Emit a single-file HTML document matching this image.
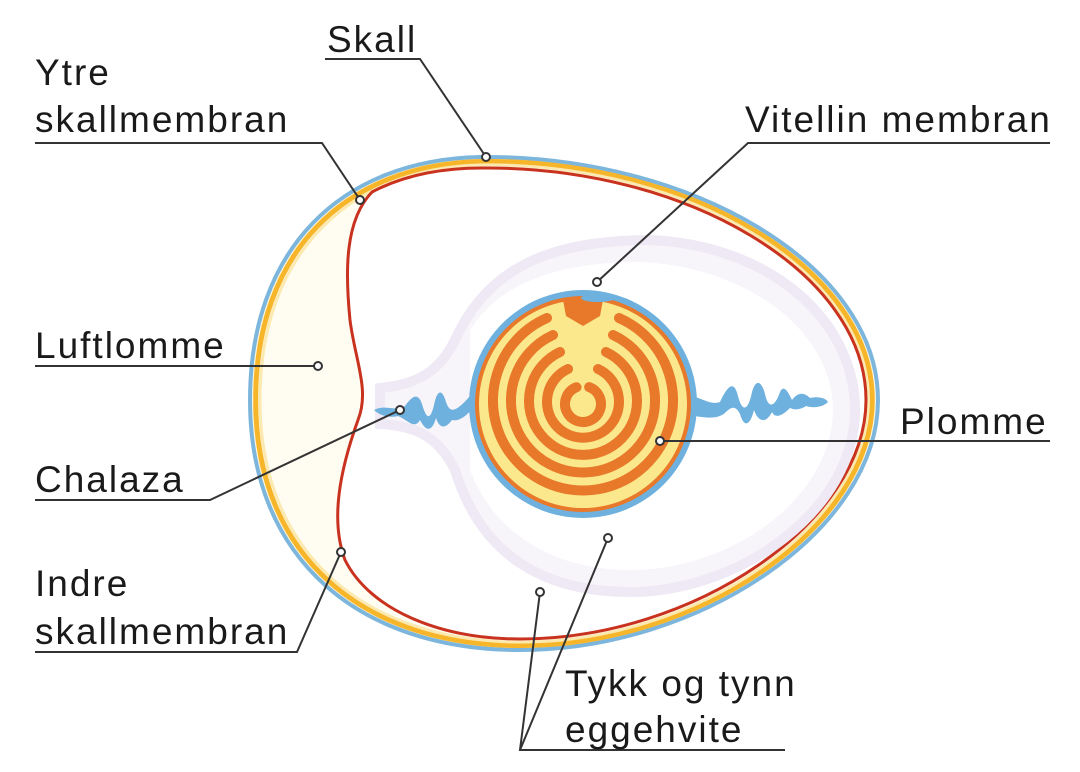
<!DOCTYPE html>
<html><head><meta charset="utf-8"><style>
html,body{margin:0;padding:0;background:#fff;}
svg{display:block}
text{font-family:"Liberation Sans",sans-serif;font-size:37px;fill:#1a1a1a;letter-spacing:2px}
</style></head><body>
<svg width="1080" height="772" viewBox="0 0 1080 772" xmlns="http://www.w3.org/2000/svg">
<defs>
<path id="egg" d="M250,400 C250,250 340,160 480,157 C690,155 878,265 878,400 C878,530 700,650 520,650 C360,650 250,560 250,400Z"/>
</defs>
<use href="#egg" fill="#fdf6dc" stroke="#7db6dc" stroke-width="4"/>
<use href="#egg" fill="none" stroke="#f7b52a" stroke-width="5" transform="translate(564 403) scale(0.982) translate(-564 -403)"/>
<use href="#egg" fill="#fffdf2" stroke="#fbe9b0" stroke-width="3" transform="translate(564 403) scale(0.968) translate(-564 -403)"/>
<path d="M372,192 C410,172 450,168 482,168 C685,166 866,272 866,400 C866,522 694,639 520,639 C440,639 370,610 345,560 C330,520 340,470 358,420 C370,390 355,360 350,320 C345,270 345,220 372,192Z" fill="#fff" stroke="#c8321f" stroke-width="3"/>
<path d="M380,388 C420,384 440,370 455,340 C490,262 560,240 650,240 C770,245 855,320 855,410 C855,510 740,592 630,592 C540,592 480,552 455,470 C440,440 420,426 380,424Z" fill="#f7f4fa" stroke="#eee9f4" stroke-width="10"/>
<path d="M470,330 C500,282 560,262 640,262 C745,266 833,330 833,410 C833,495 735,570 630,570 C545,570 490,525 470,470Z" fill="#fff"/>
<path d="M374,410 C385,404 395,412 405,406 C412,396 418,392 422,404 C426,418 430,422 434,405 C437,390 442,388 446,402 C450,414 456,412 470,396 L478,400 C470,414 460,422 452,420 C446,428 440,430 436,418 C432,432 426,432 420,420 C414,430 408,420 398,416 C390,418 380,416 374,410Z" fill="#6fb1de"/>
<path d="M690,395 C705,400 712,405 720,402 C728,385 734,380 738,396 C742,412 748,412 752,392 C756,378 762,380 766,398 C770,410 776,404 780,392 C784,384 788,392 792,400 C798,392 804,392 810,398 C818,396 826,398 828,402 C822,408 812,408 806,406 C800,410 794,410 790,408 C784,414 776,420 772,412 C766,424 758,422 754,410 C750,426 744,428 740,414 C736,406 732,406 726,412 C718,420 705,418 690,415Z" fill="#6fb1de"/>
<circle cx="583" cy="404" r="114" fill="#6fb1de"/>
<circle cx="583" cy="404" r="106" fill="#fbe88c" stroke="#e8782a" stroke-width="4"/>
<g fill="none" stroke="#e8782a" stroke-width="10" stroke-linecap="round">
<circle cx="583" cy="404" r="18" stroke-dasharray="100 13.1" transform="rotate(-70 583 404)"/>
<path d="M568,369 A36,36 0 1 0 598,369"/>
<path d="M560,352 A54,54 0 1 0 606,352"/>
<path d="M553,335 A72,72 0 1 0 613,335"/>
<path d="M547,318 A90,90 0 1 0 619,318"/>
</g>
<path d="M563,300 L603,300 L600,316 L583,326 L566,316Z" fill="#e8782a"/>
<ellipse cx="598" cy="298" rx="17" ry="4" fill="#6fb1de"/>
<g fill="none" stroke="#333" stroke-width="2">
<polyline points="325,59 420,59 486,157"/>
<polyline points="35,143 322,143 360,200"/>
<polyline points="1050,143 748,143 597,282"/>
<polyline points="35,366 318,366"/>
<polyline points="35,500 210,500 400,410"/>
<polyline points="660,441 1050,441"/>
<polyline points="35,652 297,652 341,552"/>
<polyline points="785,750 520,750 540,592"/>
<polyline points="520,750 608,538"/>
</g>
<g fill="#fff" stroke="#333" stroke-width="2">
<circle cx="486" cy="157" r="4"/><circle cx="360" cy="200" r="4"/><circle cx="597" cy="282" r="4"/>
<circle cx="318" cy="366" r="4"/><circle cx="400" cy="410" r="4"/><circle cx="660" cy="441" r="4"/>
<circle cx="341" cy="552" r="4"/><circle cx="540" cy="592" r="4"/><circle cx="608" cy="538" r="4"/>
</g>
<text x="327" y="52">Skall</text>
<text x="35" y="85">Ytre</text>
<text x="35" y="132">skallmembran</text>
<text x="745" y="132">Vitellin membran</text>
<text x="35" y="358">Luftlomme</text>
<text x="35" y="492">Chalaza</text>
<text x="900" y="434">Plomme</text>
<text x="35" y="596">Indre</text>
<text x="35" y="644">skallmembran</text>
<text x="565" y="696">Tykk og tynn</text>
<text x="565" y="742">eggehvite</text>
</svg>
</body></html>
